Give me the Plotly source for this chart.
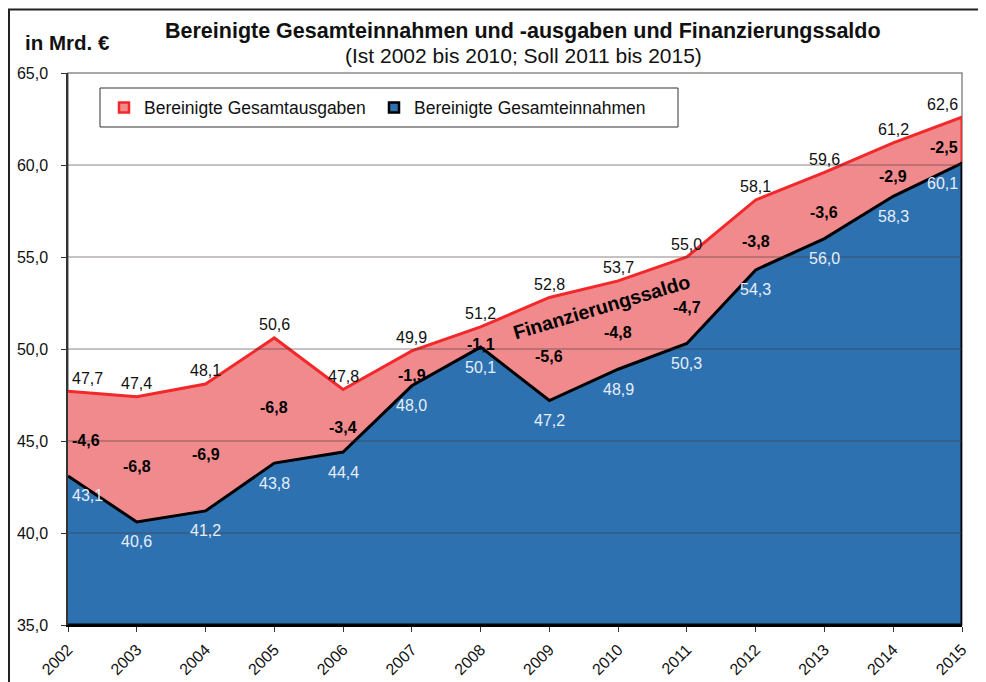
import plotly.graph_objects as go

years = [str(y) for y in range(2002, 2016)]
ausgaben = [47.7, 47.4, 48.1, 50.6, 47.8, 49.9, 51.2, 52.8, 53.7, 55.0, 58.1, 59.6, 61.2, 62.6]
einnahmen = [43.1, 40.6, 41.2, 43.8, 44.4, 48.0, 50.1, 47.2, 48.9, 50.3, 54.3, 56.0, 58.3, 60.1]
saldo = [-4.6, -6.8, -6.9, -6.8, -3.4, -1.9, -1.1, -5.6, -4.8, -4.7, -3.8, -3.6, -2.9, -2.5]
ytick_vals = [35, 40, 45, 50, 55, 60, 65]
YMIN, YMAX = 35, 65

def fmt(v):
    return f"{v:.1f}".replace(".", ",")

FONT = "Liberation Sans, Arial, sans-serif"
n = len(years)
xi = list(range(n))

# page body offsets the figure by 8px; plot area target: x 68..962, y 73..625 on screen
OFF = 8
PL, PT, PW, PH = 68, 73, 894, 552

def px(xp):
    return (xp - PL) / PW

def py(yp):
    return 1 - (yp - PT) / PH

def anchor(i):
    if i == 0:
        return "left"
    if i == n - 1:
        return "right"
    return "center"

fig = go.Figure()
# closed area polygons (down to the axis minimum) so the border surrounds each area
fig.add_trace(go.Scatter(
    x=xi + [n - 1, 0], y=ausgaben + [YMIN, YMIN], mode="lines", fill="toself",
    fillcolor="#F08A8D", line=dict(color="#F2282A", width=3), showlegend=False, hoverinfo="skip",
))
fig.add_trace(go.Scatter(
    x=xi + [n - 1, 0], y=einnahmen + [YMIN, YMIN], mode="lines", fill="toself",
    fillcolor="#2E71B1", line=dict(color="#000000", width=3), showlegend=False, hoverinfo="skip",
))
# legend entries
fig.add_trace(go.Scatter(
    x=[None], y=[None], mode="markers", name="Bereinigte Gesamtausgaben",
    marker=dict(symbol="square", size=10, color="#F08A8D", line=dict(color="#F2282A", width=2.5)),
))
fig.add_trace(go.Scatter(
    x=[None], y=[None], mode="markers", name="Bereinigte Gesamteinnahmen",
    marker=dict(symbol="square", size=10, color="#2E71B1", line=dict(color="#000000", width=2.5)),
))
# invisible spacer entry so the last legend label is not clipped
fig.add_trace(go.Scatter(
    x=[None], y=[None], mode="markers", name=" ", hoverinfo="skip",
    marker=dict(size=1, color="rgba(0,0,0,0)"),
))

annotations = []
for i in xi:
    xs = 2 if i == 0 else (-2 if i == n - 1 else 0)
    annotations.append(dict(x=i, y=ausgaben[i], xref="x", yref="y", text=fmt(ausgaben[i]),
                            showarrow=False, xanchor=anchor(i), yanchor="middle", yshift=13, xshift=xs,
                            font=dict(family=FONT, size=16, color="#111111")))
    annotations.append(dict(x=i, y=einnahmen[i], xref="x", yref="y", text=fmt(einnahmen[i]),
                            showarrow=False, xanchor=anchor(i), yanchor="middle", yshift=-20, xshift=xs,
                            font=dict(family=FONT, size=16, color="#E6EEF8")))
    mid = (ausgaben[i] + einnahmen[i]) / 2
    annotations.append(dict(x=i, y=mid, xref="x", yref="y", text="<b>" + fmt(saldo[i]) + "</b>",
                            showarrow=False, xanchor=anchor(i), yanchor="middle", yshift=-7, xshift=xs,
                            font=dict(family=FONT, size=16, color="#000000")))

annotations += [
    dict(text="<b>Bereinigte Gesamteinnahmen und -ausgaben und Finanzierungssaldo</b>",
         xref="paper", yref="paper", x=px(523), y=py(31), showarrow=False,
         font=dict(family=FONT, size=21.5, color="#111111"), xanchor="center", yanchor="middle"),
    dict(text="(Ist 2002 bis 2010; Soll 2011 bis 2015)",
         xref="paper", yref="paper", x=px(523), y=py(55), showarrow=False,
         font=dict(family=FONT, size=21, color="#111111"), xanchor="center", yanchor="middle"),
    dict(text="<b>in Mrd. €</b>", xref="paper", yref="paper", x=px(23), y=py(42),
         showarrow=False, font=dict(family=FONT, size=20.5, color="#111111"), xanchor="left", yanchor="middle"),
    dict(text="<b>Finanzierungssaldo</b>", xref="paper", yref="paper", x=px(601), y=py(307), showarrow=False,
         textangle=-16.5, xanchor="center", yanchor="middle",
         font=dict(family=FONT, size=19.5, color="#000000")),
]

shapes = []
# plot border
shapes.append(dict(type="rect", xref="paper", yref="paper", x0=0, x1=1, y0=0, y1=1,
                   line=dict(color="#8C8C8C", width=1.5), layer="below"))
# grid lines above fills
for v in ytick_vals[1:-1]:
    shapes.append(dict(type="line", xref="paper", yref="y", x0=0, x1=1, y0=v, y1=v,
                       line=dict(color="rgba(70,55,55,0.6)", width=1), layer="above"))
# legend box
shapes.append(dict(type="rect", xref="paper", yref="paper", x0=px(100), x1=px(678), y0=py(127), y1=py(88),
                   line=dict(color="#333333", width=1), fillcolor="white", layer="below"))
# outer frame
shapes.append(dict(type="rect", xref="paper", yref="paper", x0=px(9), x1=px(983), y0=py(700), y1=py(9.5),
                   line=dict(color="#222222", width=2), layer="below"))

fig.update_layout(
    width=986, height=682,
    margin=dict(l=PL - OFF, r=986 - (PL - OFF) - PW, t=PT - OFF, b=682 - (PT - OFF) - PH,
                autoexpand=False),
    paper_bgcolor="white", plot_bgcolor="rgba(0,0,0,0)",
    separators=",.",
    font=dict(family=FONT, size=14, color="#111111"),
    shapes=shapes, annotations=annotations,
    legend=dict(orientation="h", x=px(104), y=py(107.5), xanchor="left", yanchor="middle",
                borderwidth=0, bgcolor="rgba(0,0,0,0)",
                font=dict(family=FONT, size=17.5, color="#111111"),
                entrywidth=225, itemwidth=30),
    showlegend=True,
)
fig.update_xaxes(
    range=[0, n - 1], tickmode="array", tickvals=xi, ticktext=years, tickangle=-45,
    showgrid=False, showline=True, linecolor="#000000", linewidth=2, automargin=False,
    ticks="outside", ticklen=5, tickcolor="#333333", ticklabelstandoff=2,
    tickfont=dict(family=FONT, size=16, color="#111111"), zeroline=False,
)
fig.update_yaxes(
    range=[YMIN, YMAX], tickmode="array", tickvals=ytick_vals, ticktext=[fmt(v) for v in ytick_vals],
    showgrid=False, showline=True, linecolor="#333333", linewidth=1.5, automargin=False,
    ticks="outside", ticklen=5, tickcolor="#333333", ticklabelstandoff=10,
    tickfont=dict(family=FONT, size=16, color="#111111"), zeroline=False,
)

fig.write_html("out.html")
